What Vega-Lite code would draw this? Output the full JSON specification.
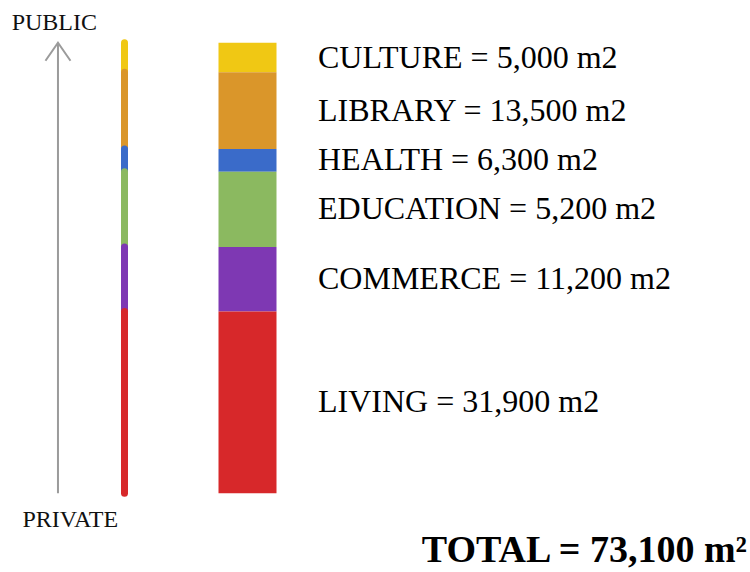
{
  "$schema": "https://vega.github.io/schema/vega-lite/v6.json",
  "width": 750,
  "height": 572,
  "autosize": {"type": "fit", "contains": "padding"},
  "padding": 0,
  "background": "white",
  "view": {"stroke": null},
  "config": {"font": "Liberation Serif"},
  "datasets": {
    "uses": [
      {"use": "CULTURE", "area_m2": 5000, "drawn_m2": 4800, "rank": 6, "label": "CULTURE = 5,000 m2"},
      {"use": "LIBRARY", "area_m2": 13500, "drawn_m2": 12450, "rank": 5, "label": "LIBRARY = 13,500 m2"},
      {"use": "HEALTH", "area_m2": 6300, "drawn_m2": 3700, "rank": 4, "label": "HEALTH = 6,300 m2"},
      {"use": "EDUCATION", "area_m2": 5200, "drawn_m2": 12200, "rank": 3, "label": "EDUCATION = 5,200 m2"},
      {"use": "COMMERCE", "area_m2": 11200, "drawn_m2": 10450, "rank": 2, "label": "COMMERCE = 11,200 m2"},
      {"use": "LIVING", "area_m2": 31900, "drawn_m2": 29500, "rank": 1, "label": "LIVING = 31,900 m2"}
    ],
    "notes": [
      {"total_m2": 73100, "top": "PUBLIC", "bottom": "PRIVATE", "total_label": "TOTAL = 73,100 m²"}
    ]
  },
  "layer": [
    {
      "data": {"name": "uses"},
      "transform": [
        {"stack": "drawn_m2", "groupby": [], "sort": [{"field": "rank", "order": "ascending"}], "as": ["y0", "y1"]}
      ],
      "mark": {"type": "rule", "strokeWidth": 7, "strokeCap": "round"},
      "encoding": {
        "x": {"datum": 16.6, "type": "quantitative", "scale": {"domain": [0, 100], "nice": false, "zero": false}, "axis": null},
        "y": {"field": "y0", "type": "quantitative", "scale": {"domain": [-12770, 80030], "nice": false, "zero": false}, "axis": null},
        "y2": {"field": "y1"},
        "color": {
          "field": "use",
          "type": "nominal",
          "scale": {
            "domain": ["CULTURE", "LIBRARY", "HEALTH", "EDUCATION", "COMMERCE", "LIVING"],
            "range": ["#F0C814", "#DA962A", "#3A6BC9", "#8BB960", "#7E38B3", "#D7282A"]
          },
          "legend": null
        }
      }
    },
    {
      "data": {"name": "uses"},
      "transform": [
        {"stack": "drawn_m2", "groupby": [], "sort": [{"field": "rank", "order": "ascending"}], "as": ["y0", "y1"]}
      ],
      "mark": {"type": "bar"},
      "encoding": {
        "x": {"datum": 29.133, "type": "quantitative", "axis": null},
        "x2": {"datum": 36.867},
        "y": {"field": "y0", "type": "quantitative", "axis": null},
        "y2": {"field": "y1"},
        "color": {"field": "use", "type": "nominal", "legend": null}
      }
    },
    {
      "data": {"name": "uses"},
      "transform": [
        {"stack": "drawn_m2", "groupby": [], "sort": [{"field": "rank", "order": "ascending"}], "as": ["y0", "y1"]},
        {"fold": ["y0", "y1"], "as": ["edge", "pos"]}
      ],
      "mark": {"type": "text", "fontSize": 32, "align": "left", "baseline": "middle", "color": "#000000"},
      "encoding": {
        "x": {"datum": 42.4, "type": "quantitative", "axis": null},
        "y": {"aggregate": "mean", "field": "pos", "type": "quantitative", "axis": null},
        "text": {"field": "label"}
      }
    },
    {
      "data": {"name": "notes"},
      "mark": {"type": "rule", "color": "#9b9b9b", "strokeWidth": 2},
      "encoding": {
        "x": {"datum": 7.73, "type": "quantitative", "axis": null},
        "y": {"datum": 73100, "type": "quantitative", "axis": null},
        "y2": {"datum": 0}
      }
    },
    {
      "data": {"name": "notes"},
      "mark": {"type": "point", "shape": "M-1,1.44L0,0L1,1.44", "size": 625, "filled": false, "color": "#9b9b9b", "strokeWidth": 2, "opacity": 1},
      "encoding": {
        "x": {"datum": 7.73, "type": "quantitative", "axis": null},
        "y": {"datum": 73100, "type": "quantitative", "axis": null}
      }
    },
    {
      "data": {"name": "notes"},
      "mark": {"type": "text", "fontSize": 24, "align": "center", "baseline": "alphabetic", "dy": -13, "color": "#111111"},
      "encoding": {
        "x": {"datum": 7.24, "type": "quantitative", "axis": null},
        "y": {"datum": 73100, "type": "quantitative", "axis": null},
        "text": {"field": "top"}
      }
    },
    {
      "data": {"name": "notes"},
      "mark": {"type": "text", "fontSize": 24, "align": "center", "baseline": "alphabetic", "dy": 33.4, "color": "#111111"},
      "encoding": {
        "x": {"datum": 9.37, "type": "quantitative", "axis": null},
        "y": {"datum": 0, "type": "quantitative", "axis": null},
        "text": {"field": "bottom"}
      }
    },
    {
      "data": {"name": "notes"},
      "mark": {"type": "text", "fontSize": 38, "fontWeight": "bold", "align": "right", "baseline": "alphabetic", "dy": 68.5, "color": "#000000"},
      "encoding": {
        "x": {"datum": 99.6, "type": "quantitative", "axis": null},
        "y": {"datum": 0, "type": "quantitative", "axis": null},
        "text": {"field": "total_label"}
      }
    }
  ]
}
